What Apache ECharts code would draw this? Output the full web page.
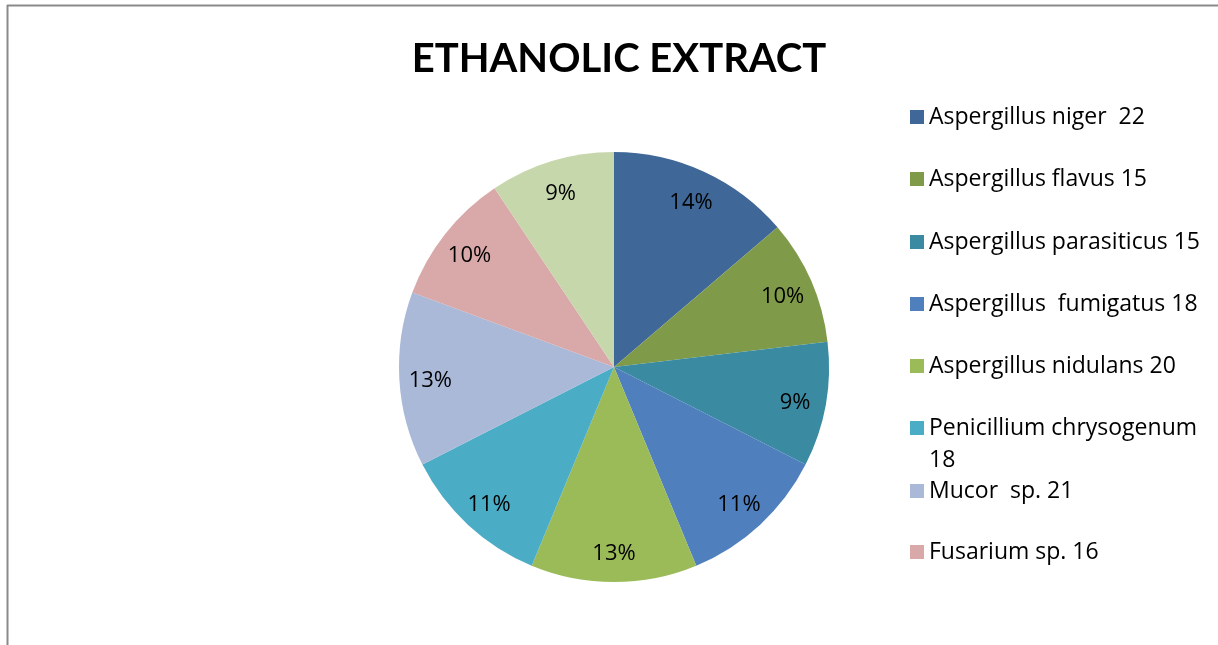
<!DOCTYPE html>
<html>
<head>
<meta charset="utf-8">
<script src="https://cdn.jsdelivr.net/npm/echarts@6/dist/echarts.min.js"></script>
<style>
  html, body { margin: 0; padding: 0; background: #fff; }
  #chart { width: 1218px; height: 645px; }
</style>
</head>
<body>
<div id="chart"></div>
<script>
// Isolates counted per organism (ethanolic extract)
const organisms = [
  'Aspergillus niger  22',
  'Aspergillus flavus 15',
  'Aspergillus parasiticus 15',
  'Aspergillus  fumigatus 18',
  'Aspergillus nidulans 20',
  'Penicillium chrysogenum 18',
  'Mucor  sp. 21',
  'Fusarium sp. 16',
  'Rhizopus sp. 15'
];
const counts = [22, 15, 15, 18, 20, 18, 21, 16, 15];
const sliceColors = ['#3F6898', '#7F9A48', '#3A8BA1', '#4F7FBD', '#9BBB59',
                     '#4BACC6', '#AAB9D8', '#D9A8A8', '#C7D7AC'];
// Entries listed in the legend, with their row centres
const legendNames = organisms.slice(0, 8);
const legendRows = [117, 179, 242, 304, 366, 428, 491, 552];

const FONT = '"Open Sans", Lato, sans-serif';
const TITLE_FONT = 'Lato, "Open Sans", sans-serif';
const cx = 614, cy = 367, R = 215;
const LH = 32;

const pieData = organisms.map((n, i) => ({ name: n, value: counts[i], itemStyle: { color: sliceColors[i] } }));

const legends = legendNames.map((n, i) => ({
  orient: 'vertical',
  left: 910,
  top: legendRows[i] - LH / 2,
  padding: 0,
  itemWidth: 14,
  itemHeight: 14,
  icon: 'rect',
  data: [n],
  selectedMode: false,
  textStyle: { fontFamily: FONT, fontSize: 23, color: '#000', lineHeight: LH }
}));

// The long Penicillium entry wraps onto a second line under its marker;
// an empty leading line keeps the marker level with the first text line
legends[5].formatter = () => '\nPenicillium chrysogenum\n18';
legends[5].top = legendRows[5] - LH * 1.5;

const option = {
  animation: false,
  title: {
    text: 'ETHANOLIC EXTRACT',
    left: cx, top: 34, textAlign: 'center',
    textStyle: { fontFamily: TITLE_FONT, fontWeight: 'bold', fontSize: 40, color: '#000' }
  },
  legend: legends,
  graphic: [
    { type: 'line', shape: { x1: 7, y1: 5.5, x2: 1218, y2: 5.5 }, style: { stroke: '#8a8a8a', lineWidth: 2 } },
    { type: 'line', shape: { x1: 7.5, y1: 5, x2: 7.5, y2: 645 }, style: { stroke: '#8a8a8a', lineWidth: 2 } }
  ],
  series: [
    {
      type: 'pie',
      center: [cx, cy],
      radius: [0, R],
      startAngle: 90,
      clockwise: true,
      percentPrecision: 0,
      data: pieData,
      label: { show: false },
      labelLine: { show: false },
      emphasis: { disabled: true }
    },
    {
      // transparent outer ring carrying the percentage labels
      type: 'pie',
      center: [cx, cy],
      radius: [147, R],
      startAngle: 90,
      clockwise: true,
      percentPrecision: 0,
      silent: true,
      data: organisms.map((n, i) => ({ name: n, value: counts[i] })),
      itemStyle: { color: 'rgba(0,0,0,0)' },
      label: {
        show: true, position: 'inside', formatter: '{d}%',
        fontFamily: FONT, fontSize: 22, color: '#000', offset: [0, 3]
      },
      labelLine: { show: false },
      emphasis: { disabled: true }
    }
  ]
};

const chart = echarts.init(document.getElementById('chart'), null, { renderer: 'canvas' });
chart.setOption(option);
</script>
</body>
</html>
